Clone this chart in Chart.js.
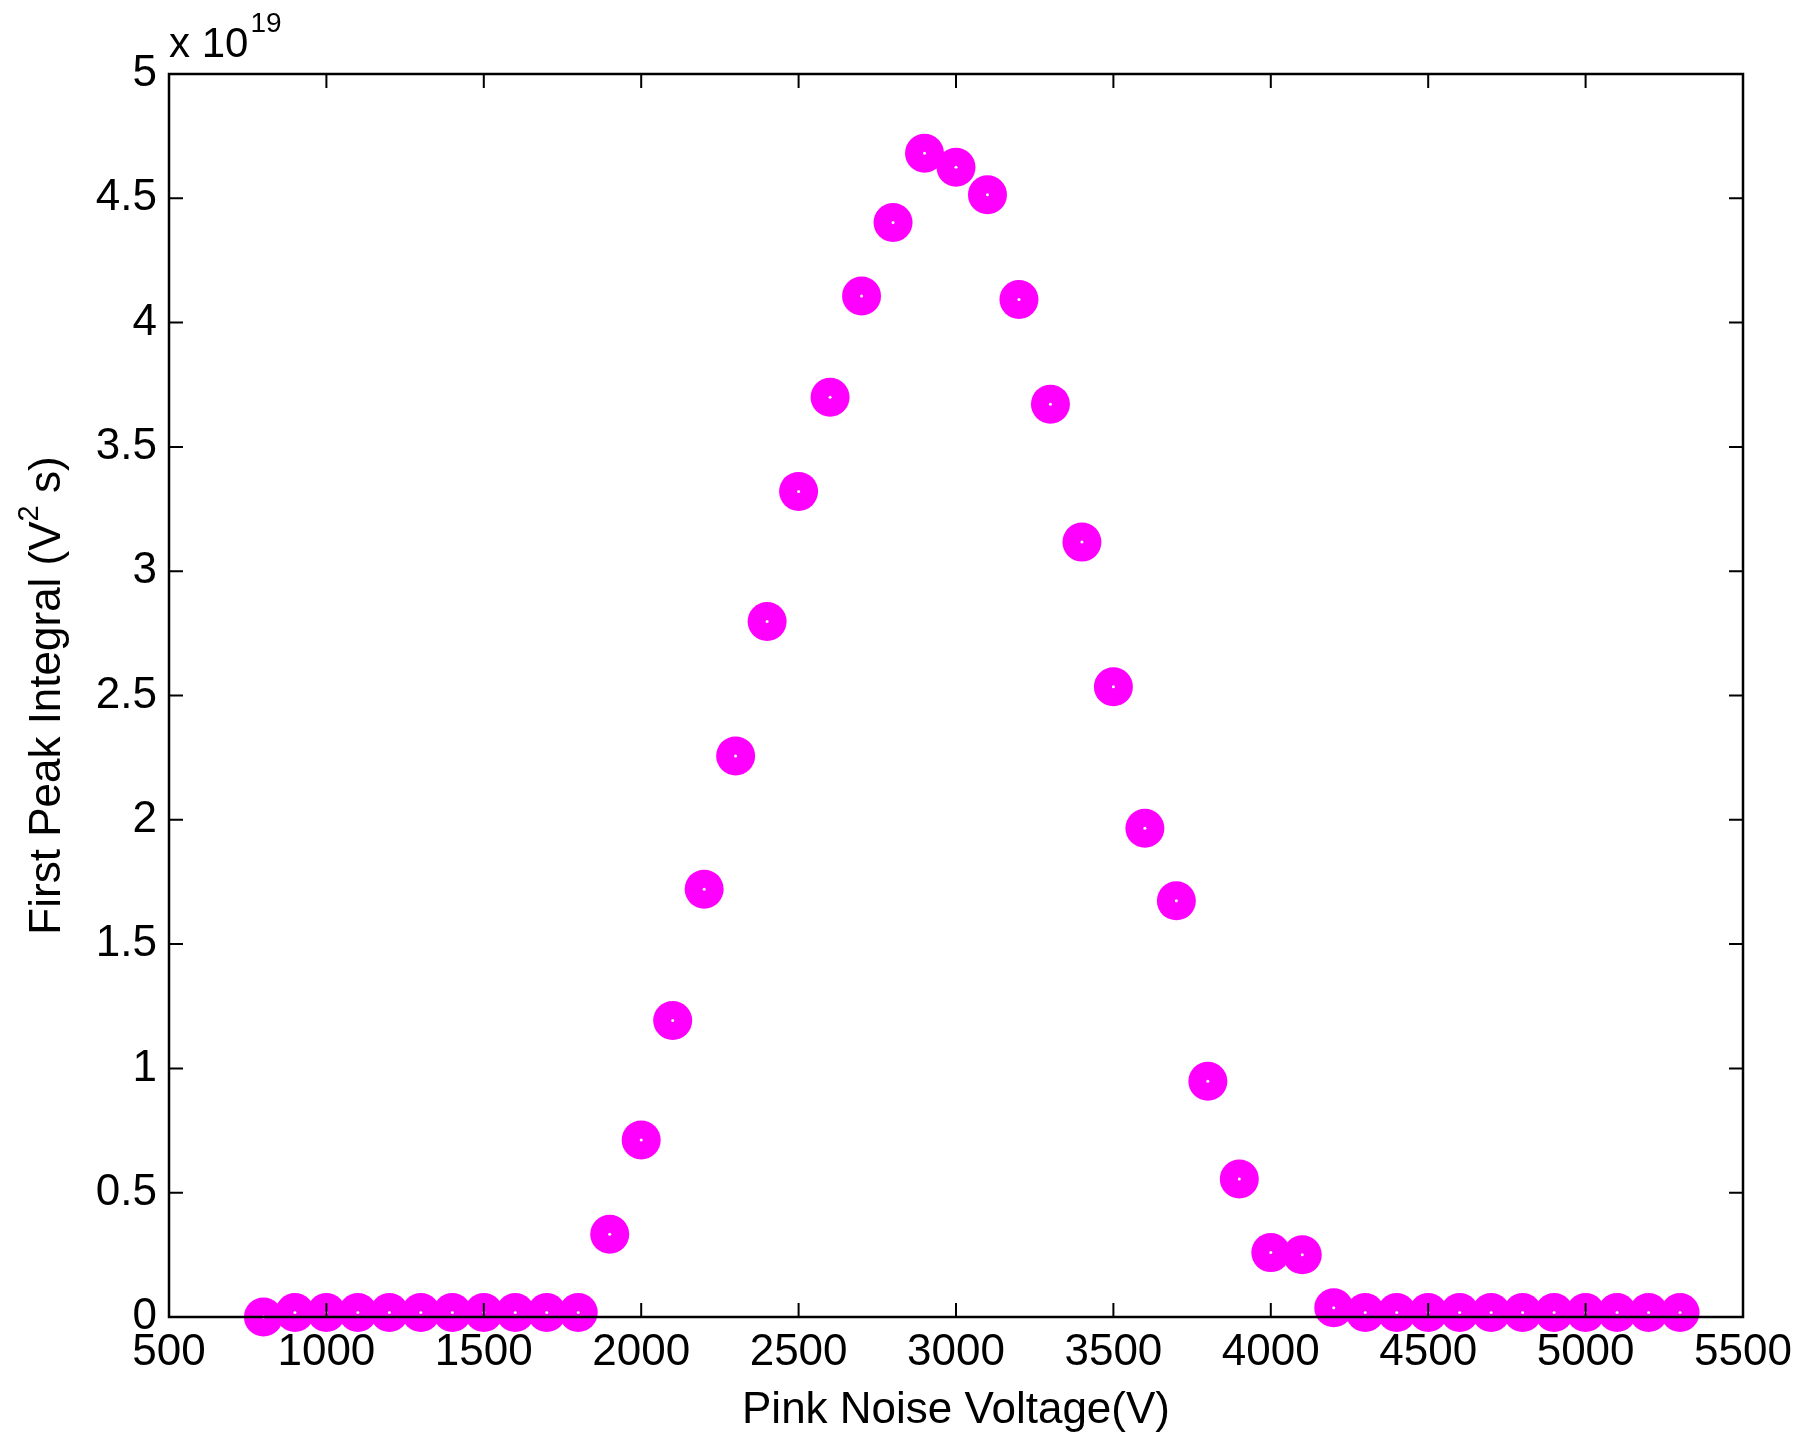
<!DOCTYPE html>
<html>
<head>
<meta charset="utf-8">
<script src="https://cdn.jsdelivr.net/npm/chart.js@4.4.1/dist/chart.umd.min.js"></script>
<style>
  body { margin: 0; background: #fff; }
  #wrap { width: 1804px; height: 1445px; position: relative; }
</style>
</head>
<body>
<div id="wrap"><canvas id="peakChart"></canvas></div>
<script>
// Pink noise voltage (V)
const voltages = [800, 900, 1000, 1100, 1200, 1300, 1400, 1500, 1600, 1700, 1800,
  1900, 2000, 2100, 2200, 2300, 2400, 2500, 2600, 2700, 2800, 2900, 3000, 3100,
  3200, 3300, 3400, 3500, 3600, 3700, 3800, 3900, 4000, 4100, 4200, 4300, 4400,
  4500, 4600, 4700, 4800, 4900, 5000, 5100, 5200, 5300];
// First peak integral, in units of 1e19 V^2 s
const peakIntegral = [0.0, 0.018, 0.018, 0.018, 0.018, 0.018, 0.018, 0.018, 0.018, 0.018, 0.018,
  0.333, 0.712, 1.193, 1.721, 2.257, 2.798, 3.321, 3.700, 4.107, 4.403, 4.681, 4.625, 4.514,
  4.093, 3.672, 3.117, 2.535, 1.966, 1.674, 0.948, 0.555, 0.259, 0.250, 0.037, 0.018, 0.018,
  0.018, 0.018, 0.018, 0.018, 0.018, 0.018, 0.018, 0.018, 0.018];
const xTicks = [500, 1000, 1500, 2000, 2500, 3000, 3500, 4000, 4500, 5000, 5500];
const yTicks = [0, 0.5, 1, 1.5, 2, 2.5, 3, 3.5, 4, 4.5, 5];

const points = voltages.map((v, i) => ({ x: v, y: peakIntegral[i] }));
const FONT = '"Liberation Sans", Arial, Helvetica, sans-serif';

// box, inward tick marks, y title with superscript and the exponent label
const frame = {
  id: 'frame',
  afterDraw(chart) {
    const { ctx, chartArea: a, scales } = chart;
    ctx.save();
    ctx.strokeStyle = '#000';
    ctx.lineWidth = 2;
    const len = 14;
    scales.x.ticks.forEach(t => {
      const px = scales.x.getPixelForValue(t.value);
      ctx.beginPath();
      ctx.moveTo(px, a.bottom); ctx.lineTo(px, a.bottom - len);
      ctx.moveTo(px, a.top); ctx.lineTo(px, a.top + len);
      ctx.stroke();
    });
    scales.y.ticks.forEach(t => {
      const py = scales.y.getPixelForValue(t.value);
      ctx.beginPath();
      ctx.moveTo(a.left, py); ctx.lineTo(a.left + len, py);
      ctx.moveTo(a.right, py); ctx.lineTo(a.right - len, py);
      ctx.stroke();
    });
    ctx.lineWidth = 2.5;
    ctx.strokeRect(a.left, a.top, a.right - a.left, a.bottom - a.top);

    ctx.fillStyle = '#000';
    ctx.textBaseline = 'alphabetic';
    ctx.textAlign = 'left';
    ctx.font = '42px ' + FONT;
    ctx.fillText('x 10', a.left, 57);
    let w = ctx.measureText('x 10').width;
    ctx.font = '28px ' + FONT;
    ctx.fillText('19', a.left + w + 2, 32);

    // y axis title
    const p1 = 'First Peak Integral (V', p2 = '2', p3 = ' s)';
    ctx.font = '44px ' + FONT;
    const w1 = ctx.measureText(p1).width, w3 = ctx.measureText(p3).width;
    ctx.font = '29px ' + FONT;
    const w2 = ctx.measureText(p2).width;
    const total = w1 + w2 + w3;
    ctx.translate(60, (a.top + a.bottom) / 2);
    ctx.rotate(-Math.PI / 2);
    let x0 = -total / 2;
    ctx.font = '44px ' + FONT;
    ctx.fillText(p1, x0, 0);
    ctx.font = '29px ' + FONT;
    ctx.fillText(p2, x0 + w1, -22);
    ctx.font = '44px ' + FONT;
    ctx.fillText(p3, x0 + w1 + w2, 0);
    ctx.restore();
  }
};

new Chart(document.getElementById('peakChart'), {
  type: 'scatter',
  data: {
    datasets: [
      {
        data: points,
        pointRadius: 1.5,
        pointBackgroundColor: '#ffffff',
        pointBorderWidth: 0,
        order: 0,
        clip: false
      },
      {
        data: points,
        pointRadius: 19.5,
        pointBackgroundColor: '#ff00ff',
        pointBorderWidth: 0,
        order: 1,
        clip: false
      }
    ]
  },
  options: {
    responsive: true,
    maintainAspectRatio: false,
    animation: false,
    events: [],
    layout: { padding: { left: 0, top: 74, right: 61, bottom: 0 } },
    plugins: { legend: { display: false }, tooltip: { enabled: false } },
    scales: {
      x: {
        type: 'linear',
        min: 500,
        max: 5500,
        afterBuildTicks: s => { s.ticks = xTicks.map(v => ({ value: v })); },
        afterFit: s => { s.height = 128; },
        grid: { display: false, drawTicks: false },
        border: { display: false },
        ticks: {
          color: '#000',
          font: { family: FONT, size: 44 },
          padding: 9,
          maxRotation: 0,
          autoSkip: false,
          callback: v => String(v)
        },
        title: {
          display: true,
          text: 'Pink Noise Voltage(V)',
          color: '#000',
          font: { family: FONT, size: 44 },
          padding: { top: 0, bottom: 8 }
        }
      },
      y: {
        type: 'linear',
        min: 0,
        max: 5,
        afterBuildTicks: s => { s.ticks = yTicks.map(v => ({ value: v })); },
        afterFit: s => { s.width = 169; },
        grid: { display: false, drawTicks: false },
        border: { display: false },
        ticks: {
          color: '#000',
          font: { family: FONT, size: 44 },
          padding: 12,
          callback: v => String(v)
        }
      }
    }
  },
  plugins: [frame]
});
</script>
</body>
</html>
